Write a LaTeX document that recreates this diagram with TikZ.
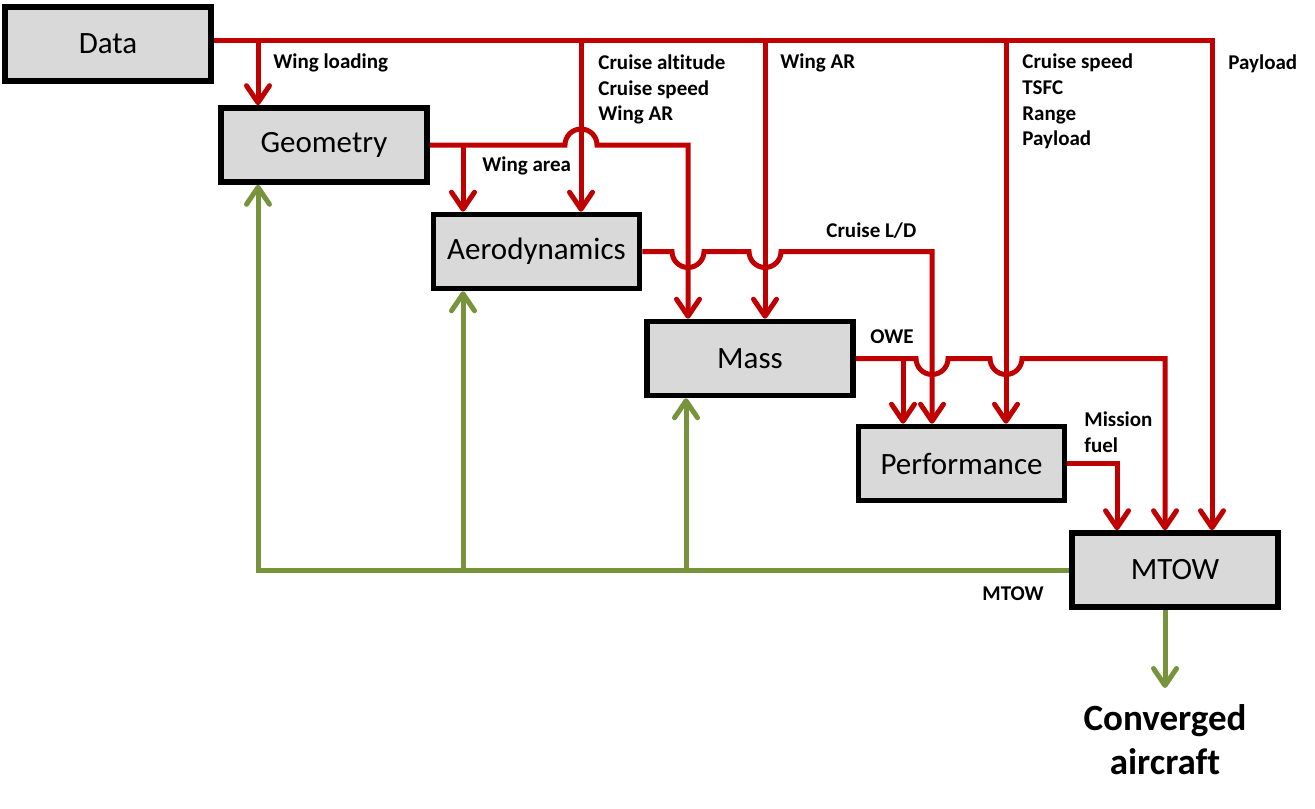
\documentclass[tikz,border=0pt]{standalone}
\usepackage{fontspec}
\setmainfont{Carlito}[Ligatures=CommonOff]
\usepackage{tikz}
\usetikzlibrary{arrows.meta,calc,positioning}
\definecolor{flowred}{HTML}{C00000}
\definecolor{flowgreen}{HTML}{77933C}
\definecolor{boxgray}{HTML}{D9D9D9}

\begin{document}
\begin{tikzpicture}[x=0.5pt, y=0.5pt,
    block/.style={draw, fill=boxgray, line width=2.8pt, minimum width=103pt,
      minimum height=37pt, font=\fontsize{15.5}{18}\selectfont},
    lbl/.style={font=\bfseries\fontsize{10.5}{12.8}\selectfont, align=left, inner sep=0pt},
    feed/.style={draw=flowred, line width=2.5pt},
    feedarrow/.style={feed, -{Straight Barb[length=8.5pt, width=11.5pt, round]}},
    backarrow/.style={draw=flowgreen, line width=2.5pt, -{Straight Barb[length=8.5pt, width=11.5pt, round]}},
  ]
    \useasboundingbox (0,0) rectangle (1315,-808);
    % blocks
    \node(Data) at (108,-44) [block] {Data};
    \node(Geometry) at (324,-145) [block] {Geometry};
    \node(Aero) at (536.5,-251.5) [block] {Aerodynamics};
    \node(Mass) at (750,-358.5) [block] {Mass};
    \node(Perf) at (961.5,-463.5) [block] {Performance};
    \node(MTOW) at (1175,-570) [block] {MTOW};
    % branch points
    \coordinate (D1) at (258,-41);
    \coordinate (D2) at (581,-41);
    \coordinate (D3) at (765,-41);
    \coordinate (D4) at (1006,-41);
    \coordinate (D5) at (1212,-41);
    \coordinate (G1) at (463,-145);
    \coordinate (G2) at (688,-145);
    \coordinate (A1) at (932,-251.5);
    \coordinate (M1) at (903,-358.5);
    \coordinate (M2) at (1165,-358.5);
    \coordinate (P1) at (1117,-463.5);
    \coordinate (B1) at (258,-570);
    \coordinate (B2) at (463,-570);
    \coordinate (B3) at (686,-570);
    \coordinate (Out) at (1165,-688);
    % inputs from data
    \draw[feedarrow] ([yshift=1.5pt]Data.east) -- (D5) -- (D5 |- MTOW.north);
    \draw[feedarrow] (D1) -- (D1 |- Geometry.north);
    \draw[feedarrow] (D2) -- (D2 |- Aero.north);
    \draw[feedarrow] (D3) -- (D3 |- Mass.north);
    \draw[feedarrow] (D4) -- (D4 |- Perf.north);
    % discipline outputs
    \draw[feedarrow] (Geometry.east) -- ($(D2 |- Geometry.east)+(-8pt,0)$)
      arc[start angle=180, end angle=0, radius=8pt] -- (G2) -- (G2 |- Mass.north);
    \draw[feedarrow] (G1) -- (G1 |- Aero.north);
    \draw[feedarrow] (Aero.east) -- ($(G2 |- Aero.east)+(-8pt,0)$)
      arc[start angle=180, end angle=360, radius=8pt] -- ($(D3 |- Aero.east)+(-8pt,0)$)
      arc[start angle=180, end angle=360, radius=8pt] -- (A1) -- (A1 |- Perf.north);
    \draw[feedarrow] (Mass.east) -- ($(A1 |- Mass.east)+(-8pt,0)$)
      arc[start angle=180, end angle=360, radius=8pt] -- ($(D4 |- Mass.east)+(-8pt,0)$)
      arc[start angle=180, end angle=360, radius=8pt] -- (M2) -- (M2 |- MTOW.north);
    \draw[feedarrow] (M1) -- (M1 |- Perf.north);
    \draw[feedarrow] (Perf.east) -- (P1) -- (P1 |- MTOW.north);
    % feedback of MTOW
    \draw[backarrow] (MTOW.west) -- (B1) -- (B1 |- Geometry.south);
    \draw[backarrow] (B2) -- (B2 |- Aero.south);
    \draw[backarrow] (B3) -- (B3 |- Mass.south);
    \draw[backarrow] (M2 |- MTOW.south) -- (Out);
    % labels
    \node(WL) at (273,-63) [lbl, anchor=west] {Wing loading};
    \node(CA) at (598,-89.5) [lbl, anchor=west] {Cruise altitude\\Cruise speed\\Wing AR};
    \node(AR) at (780,-63) [lbl, anchor=west] {Wing AR};
    \node(CS) at (1022,-101.5) [lbl, anchor=west] {Cruise speed\\TSFC\\Range\\Payload};
    \node(PL) at (1228,-64) [lbl, anchor=west] {Payload};
    \node(WA) at (482,-166) [lbl, anchor=west] {Wing area};
    \node(LD) at (826,-231) [lbl, anchor=west] {Cruise L/D};
    \node(OW) at (870,-337) [lbl, anchor=west] {OWE};
    \node(MF) at (1084,-432.5) [lbl, anchor=west] {Mission\\fuel};
    \node(MT) at (1013,-594) [lbl] {MTOW};
    \node(CV) at (1165,-740) [lbl, align=center, font=\bfseries\fontsize{18.5}{22}\selectfont] {Converged\\aircraft};
\end{tikzpicture}
\end{document}
